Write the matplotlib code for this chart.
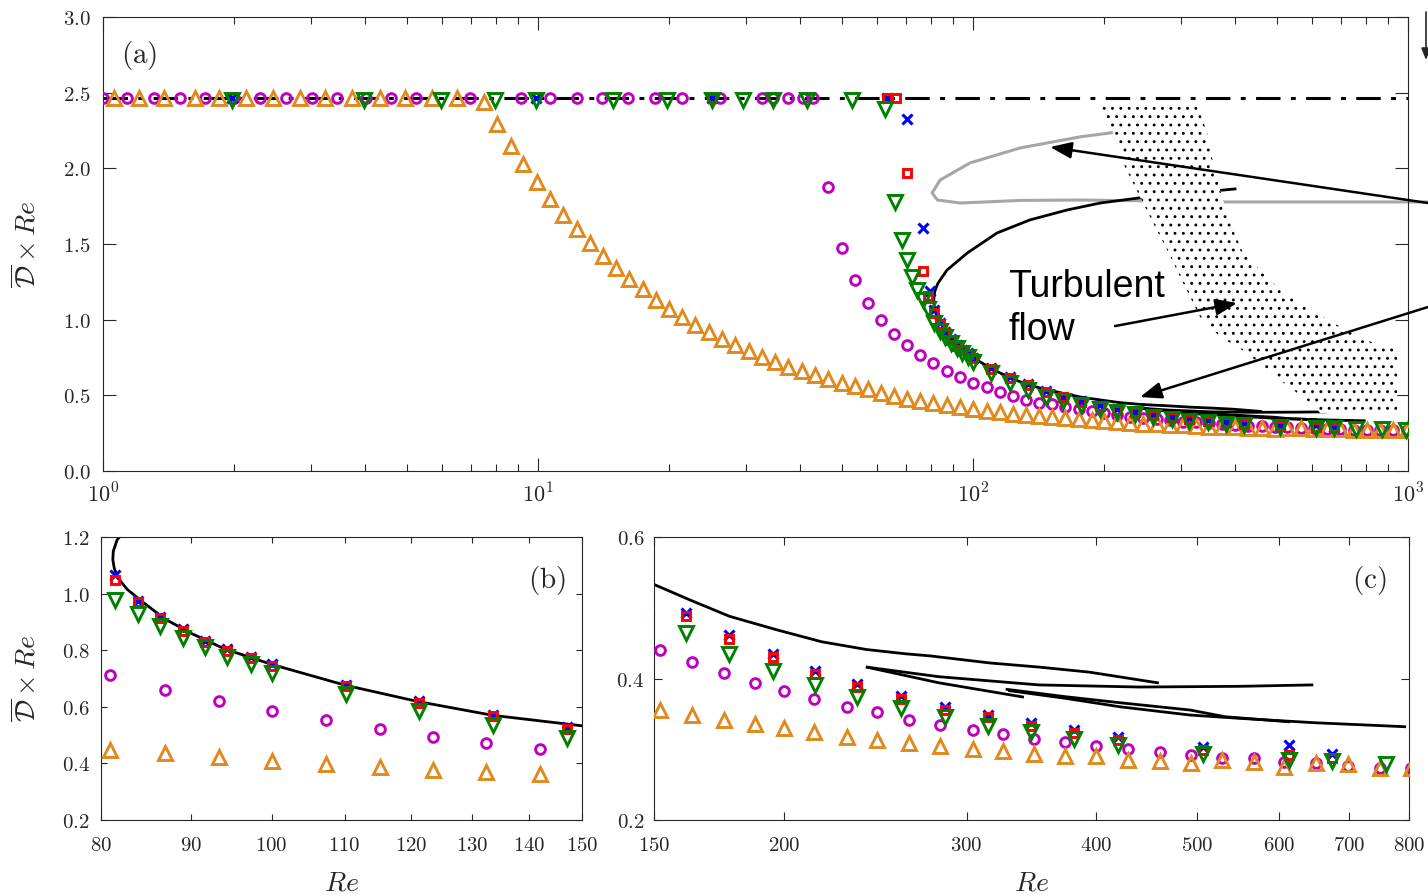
import numpy as np
import matplotlib
matplotlib.use('Agg')
import matplotlib.pyplot as plt
from matplotlib.ticker import FixedLocator, NullLocator, FuncFormatter, LogLocator, MultipleLocator

plt.rcParams['mathtext.fontset'] = 'cm'
plt.rcParams['hatch.linewidth'] = 0.9

# ---- data: Re and D*Re ----
stokes = 2.465

re_ora = [1.06, 1.21, 1.38, 1.63, 1.85, 2.13, 2.46, 2.84, 3.24, 3.74, 4.33, 4.95, 5.71, 6.51, 7.51,
          8.05, 8.67, 9.24, 9.95, 10.66, 11.42, 12.29, 13.17, 14.11, 15.11, 16.19, 17.43, 18.68, 20.0,
          21.4, 22.96, 24.7, 26.5, 28.4, 30.5, 32.7, 35.1, 37.6, 40.5, 43.3,
          46.4, 50.0, 53.6, 57.4, 61.4, 65.8, 70.5, 75.5, 81.0, 87.0, 93.3, 100, 107.4, 115.2, 123.5,
          132.4, 142, 152, 163, 175, 187.5, 200, 214, 230, 246, 264, 283, 304, 325, 348, 373, 400,
          429, 461, 493, 528, 567, 607, 651, 699, 750, 804, 862, 925, 992]
dr_ora = [2.465, 2.465, 2.465, 2.465, 2.465, 2.465, 2.465, 2.465, 2.465, 2.465, 2.465, 2.465, 2.465, 2.465, 2.44,
          2.29, 2.15, 2.03, 1.91, 1.80, 1.69, 1.60, 1.51, 1.42, 1.34, 1.27, 1.20, 1.13, 1.07,
          1.02, 0.965, 0.92, 0.87, 0.83, 0.79, 0.753, 0.72, 0.687, 0.661, 0.634,
          0.608, 0.581, 0.562, 0.542, 0.518, 0.496, 0.476, 0.462, 0.448, 0.436, 0.422, 0.410, 0.398, 0.387, 0.377,
          0.369, 0.361, 0.356, 0.349, 0.342, 0.336, 0.330, 0.324, 0.318, 0.313, 0.309, 0.305, 0.301, 0.297, 0.293, 0.291, 0.290,
          0.285, 0.283, 0.280, 0.285, 0.282, 0.275, 0.280, 0.279, 0.274, 0.273, 0.271, 0.270, 0.268]

re_mag = [1.0, 1.135, 1.31, 1.50, 1.72, 2.0, 2.30, 2.63, 3.02, 3.45, 4.02, 4.59, 5.24, 6.98, 9.14,
          10.66, 12.29, 14.03, 16.1, 18.6, 21.4, 26.2, 32.7, 34.7, 37.6, 40.7, 42.9,
          46.4, 50.0, 53.6, 57.4, 61.4, 65.8, 70.5, 75.5, 81.0, 87.0, 93.3, 100, 107.4, 115.2, 123.5,
          132.4, 142, 152, 163, 175, 187.5, 200, 214, 230, 246, 264, 283, 304, 325, 348, 373, 400,
          429, 461, 493, 528, 567, 607, 651, 699, 750, 804, 862, 925, 992]
dr_mag = [2.465] * 27 + [
          1.877, 1.474, 1.262, 1.110, 0.998, 0.905, 0.833, 0.767, 0.712, 0.661, 0.620, 0.584, 0.552, 0.522, 0.495,
          0.472, 0.452, 0.440, 0.423, 0.408, 0.394, 0.382, 0.371, 0.360, 0.352, 0.342, 0.334, 0.327, 0.321, 0.315, 0.310, 0.305,
          0.300, 0.296, 0.292, 0.288, 0.287, 0.282, 0.281, 0.276, 0.274, 0.273, 0.271, 0.270, 0.268]

re_grn = [1.98, 3.98, 5.98, 7.96, 9.9, 14.9, 19.8, 25.1, 29.6, 34.7, 41.5, 52.7,
          62.8, 66.2, 68.7, 70.5, 72.4, 74.3, 76.6, 78.8, 81.5, 84.0, 86.4, 89.0, 91.6, 94.3, 97.3, 100.1,
          110.2, 121.3, 133.6, 147.1, 161.1, 177.3, 195.4, 214.3, 235.4, 259.4, 286, 314.3, 345.8, 380.8,
          419.5, 507, 613, 675, 760, 870, 990]
dr_grn = [2.45] * 12 + [
          2.39, 1.778, 1.527, 1.395, 1.282, 1.196, 1.130, 1.071, 0.976, 0.928, 0.884, 0.845, 0.810, 0.777, 0.751, 0.721,
          0.646, 0.584, 0.535, 0.489, 0.464, 0.435, 0.411, 0.391, 0.374, 0.358, 0.346, 0.333, 0.325, 0.314,
          0.306, 0.293, 0.285, 0.284, 0.279, 0.275, 0.271]

re_red = [25.1, 63.5, 66.5,
          70.5, 76.7, 78.8, 81.5, 84.0, 86.4, 89.0, 91.6, 94.3, 97.3, 100.1, 110.2, 121.3, 133.6, 147.1,
          161.1, 177.3, 195.4, 214.3, 235.4, 259.4, 286, 314.3, 345.8, 380.8, 419.5, 507, 613, 675]
dr_red = [2.465, 2.465, 2.465,
          1.970, 1.322, 1.157, 1.047, 0.970, 0.914, 0.869, 0.828, 0.798, 0.772, 0.745, 0.673, 0.614, 0.567, 0.523,
          0.488, 0.456, 0.430, 0.406, 0.388, 0.371, 0.356, 0.345, 0.333, 0.323, 0.313, 0.299, 0.292, 0.287]

re_blu = [1.98, 9.9, 25.1, 63.5,
          70.4, 76.7, 79.4, 81.5, 84.0, 86.4, 89.0, 91.6, 94.3, 97.3, 100.1, 110.2, 121.3, 133.6, 147.1,
          161.1, 177.3, 195.4, 214.3, 235.4, 259.4, 286, 314.3, 345.8, 380.8, 419.5, 507, 613, 675]
dr_blu = [2.465, 2.465, 2.465, 2.465,
          2.324, 1.604, 1.19, 1.067, 0.975, 0.919, 0.874, 0.833, 0.803, 0.777, 0.750, 0.678, 0.619, 0.572, 0.528,
          0.492, 0.461, 0.434, 0.410, 0.392, 0.375, 0.360, 0.349, 0.337, 0.327, 0.317, 0.303, 0.306, 0.293]

# solution branches (black) and the grey branch
re_main = [400, 240, 196, 164.5, 135, 113.5, 97, 87.1, 83.0, 81.7, 81.3, 81.25, 81.4, 81.8, 82.8, 84.3,
           87.0, 90.0, 94.0, 100.0, 110.0, 121.0, 133.5, 150, 162.5, 177.3, 196.8, 217.5, 240.3, 261.9,
           276.7, 316, 353.4, 394, 458]
dr_main = [1.864, 1.804, 1.771, 1.725, 1.659, 1.573, 1.441, 1.328, 1.24, 1.19, 1.15, 1.12, 1.09, 1.055, 1.015, 0.975,
           0.91, 0.86, 0.805, 0.750, 0.677, 0.619, 0.570, 0.533, 0.511, 0.488, 0.469, 0.452, 0.441, 0.435,
           0.432, 0.422, 0.416, 0.409, 0.394]
re_br1 = [240.8, 282, 352, 440, 550, 645]
dr_br1 = [0.416, 0.4026, 0.391, 0.388, 0.389, 0.391]
re_br2 = [240.6, 282, 339.6]
dr_br2 = [0.416, 0.394, 0.374]
re_br3 = [328.1, 373.6, 421.4, 492.3, 532.2, 612.7]
dr_br3 = [0.3847, 0.3743, 0.3658, 0.3555, 0.346, 0.3389]
re_br4 = [330.0, 373.6, 421.4, 492.3, 550.2, 649.5, 792.4]
dr_br4 = [0.3828, 0.372, 0.3601, 0.3484, 0.3437, 0.3375, 0.3319]
re_grey = [255, 206.5, 176.2, 128.3, 98.4, 84.0, 80.5, 82.8, 93.4, 128.3, 176.2, 379.5, 1112]
dr_grey = [2.287, 2.234, 2.208, 2.135, 2.036, 1.923, 1.837, 1.791, 1.771, 1.788, 1.791, 1.778, 1.778]

# turbulent-flow region outline
turb_re = [195.9, 209.8, 221.2, 242.0, 259.3, 279.3, 303.9, 332.5, 369.7, 426.5, 464.2, 507.8, 604.8, 627.8,
           943.5, 943.5, 830.9, 672.3, 586.0, 507.8, 456.9, 417.5, 389.7, 369.7, 356.2, 345.1, 327.3]
turb_dr = [2.426, 2.234, 2.036, 1.811, 1.639, 1.461, 1.243, 1.018, 0.886, 0.780, 0.687, 0.601, 0.436, 0.383,
           0.383, 0.820, 0.846, 0.978, 1.084, 1.196, 1.328, 1.441, 1.639, 1.857, 2.036, 2.234, 2.426]

ticks_b = [80, 90, 100, 110, 120, 130, 140, 150]
ticks_c = [150, 200, 300, 400, 500, 600, 700, 800]

ORA = '#E0891E'
MAG = '#BF00BF'
GRN = '#008000'
RED = '#FF0000'
BLU = '#0000FF'
AXC = '#262626'

fig = plt.figure(figsize=(14.28, 8.96), dpi=100)
ax_a = fig.add_axes([0.0721, 0.4743, 0.9140, 0.5067])
ax_b = fig.add_axes([0.0707, 0.0848, 0.3368, 0.3158])
ax_c = fig.add_axes([0.4580, 0.0848, 0.5287, 0.3158])

ylab = r'$\overline{\mathcal{D}}\times Re$'
fmt1 = FuncFormatter(lambda v, p: '$%.1f$' % v)
fmt0 = FuncFormatter(lambda v, p: '$%d$' % round(v))


def markers(ax):
    ax.plot(re_mag, dr_mag, 'o', ms=7, mew=2.1, mfc='none', mec=MAG, zorder=3)
    ax.plot(re_ora, dr_ora, '^', ms=10, mew=2.1, mfc='none', mec=ORA, zorder=3)
    ax.plot(re_blu, dr_blu, 'x', ms=6.5, mew=2.2, color=BLU, zorder=3)
    ax.plot(re_red, dr_red, 's', ms=6, mew=2.1, mfc='none', mec=RED, zorder=3)
    ax.plot(re_grn, dr_grn, 'v', ms=10, mew=2.1, mfc='none', mec=GRN, zorder=3)


def style(ax, tl):
    for s in ax.spines.values():
        s.set_color(AXC)
        s.set_linewidth(0.8)
    ax.tick_params(which='both', direction='in', top=True, right=True, colors=AXC, labelsize=15)
    ax.tick_params(which='major', length=tl, width=0.8)
    ax.tick_params(which='minor', length=tl * 0.55, width=0.8)


# ---- (a) ----
ax = ax_a
ax.set_xscale('log')
ax.plot([1, 1000], [stokes, stokes], color='k', lw=2.2, ls=(0, (8, 3.4, 1.6, 3.4)), zorder=2)
ax.plot(re_grey, dr_grey, color='#A6A6A6', lw=2.2, zorder=2, clip_on=False)
for r, d in [(re_main, dr_main), (re_br1, dr_br1), (re_br2, dr_br2), (re_br3, dr_br3), (re_br4, dr_br4)]:
    ax.plot(r, d, color='k', lw=2, zorder=2)
markers(ax)
ax.fill(turb_re, turb_dr, facecolor='white', edgecolor='k', hatch='..', lw=0, zorder=4)
ax.set_xlim(1, 1000)
ax.set_ylim(0, 3)
ax.xaxis.set_major_locator(FixedLocator([1, 10, 100, 1000]))
ax.xaxis.set_minor_locator(LogLocator(subs=range(2, 10), numticks=20))
ax.xaxis.set_major_formatter(FuncFormatter(lambda v, p: '$10^{%d}$' % round(np.log10(v))))
ax.xaxis.set_minor_formatter(FuncFormatter(lambda v, p: ''))
ax.yaxis.set_major_locator(MultipleLocator(0.5))
ax.yaxis.set_major_formatter(fmt1)
style(ax, 9.5)
ax.tick_params(axis='x', pad=8, labelsize=16)
ax.tick_params(axis='y', pad=9)
ax.set_ylabel(ylab, fontsize=20, color=AXC)
ax.yaxis.set_label_coords(-0.047, 0.5)
ax.text(0.0276, 0.916, r'$\mathrm{(a)}$', transform=ax.transAxes, fontsize=21,
        ha='center', va='center', color=AXC)
ax.text(120.4, 1.150, 'Turbulent', fontsize=27, family='Liberation Sans', zorder=6)
ax.text(120.4, 0.866, 'flow', fontsize=27, family='Liberation Sans', zorder=6)

aprops = dict(arrowstyle='-|>,head_length=0.65,head_width=0.25', color='k', lw=1.8,
              shrinkA=0, shrinkB=0, mutation_scale=20)
ax.annotate('', xy=(150.3, 2.141), xytext=(1428, 693), textcoords='figure pixels',
            arrowprops=aprops, annotation_clip=False, zorder=6)
ax.annotate('', xy=(242, 0.489), xytext=(1428, 589), textcoords='figure pixels',
            arrowprops=aprops, annotation_clip=False, zorder=6)
ax.annotate('', xy=(404.5, 1.110), xytext=(212, 0.958),
            arrowprops=aprops, annotation_clip=False, zorder=6)
ax.annotate('', xy=(1426, 836), xycoords='figure pixels', xytext=(1426, 884), textcoords='figure pixels',
            arrowprops=dict(arrowstyle='-|>,head_length=0.5,head_width=0.2', color=AXC, lw=1.2,
                            shrinkA=0, shrinkB=0, mutation_scale=14), annotation_clip=False)

# ---- (b) ----
ax = ax_b
ax.set_xscale('log')
ax.plot(re_main, dr_main, color='k', lw=2, zorder=2)
markers(ax)
ax.set_xlim(80, 150)
ax.set_ylim(0.2, 1.2)
ax.xaxis.set_major_locator(FixedLocator(ticks_b))
ax.xaxis.set_minor_locator(NullLocator())
ax.xaxis.set_major_formatter(fmt0)
ax.yaxis.set_major_locator(MultipleLocator(0.2))
ax.yaxis.set_major_formatter(fmt1)
style(ax, 4.5)
ax.tick_params(axis='x', pad=11)
ax.tick_params(axis='y', pad=8)
ax.set_ylabel(ylab, fontsize=20, color=AXC)
ax.yaxis.set_label_coords(-0.1227, 0.5)
ax.set_xlabel(r'$Re$', fontsize=20, color=AXC)
ax.xaxis.set_label_coords(0.5, -0.173)
ax.text(0.927, 0.848, r'$\mathrm{(b)}$', transform=ax.transAxes, fontsize=21,
        ha='center', va='center', color=AXC)

# ---- (c) ----
ax = ax_c
ax.set_xscale('log')
for r, d in [(re_main, dr_main), (re_br1, dr_br1), (re_br2, dr_br2), (re_br3, dr_br3), (re_br4, dr_br4)]:
    ax.plot(r, d, color='k', lw=2, zorder=2)
markers(ax)
ax.set_xlim(150, 800)
ax.set_ylim(0.2, 0.6)
ax.xaxis.set_major_locator(FixedLocator(ticks_c))
ax.xaxis.set_minor_locator(NullLocator())
ax.xaxis.set_major_formatter(fmt0)
ax.yaxis.set_major_locator(MultipleLocator(0.2))
ax.yaxis.set_major_formatter(fmt1)
style(ax, 5.5)
ax.tick_params(axis='x', pad=11)
ax.tick_params(axis='y', pad=7)
ax.set_xlabel(r'$Re$', fontsize=20, color=AXC)
ax.xaxis.set_label_coords(0.5, -0.173)
ax.text(0.948, 0.848, r'$\mathrm{(c)}$', transform=ax.transAxes, fontsize=21,
        ha='center', va='center', color=AXC)

fig.savefig('out.png', dpi=100)
